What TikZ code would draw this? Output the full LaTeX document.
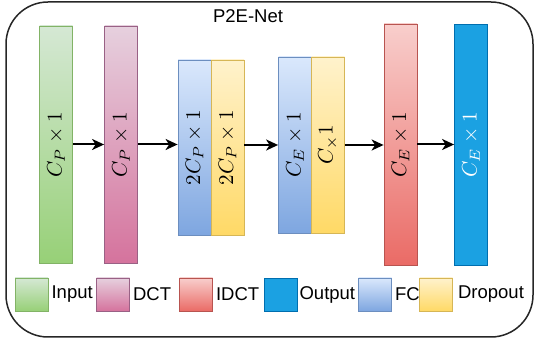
\documentclass[tikz,border=0pt]{standalone}
\usepackage{graphicx}
\usepackage[no-math]{fontspec}
\setmainfont{Liberation Sans}
\usetikzlibrary{arrows.meta}
\definecolor{gTop}{HTML}{D5E8D4}\definecolor{gBot}{HTML}{97D077}\definecolor{gLine}{HTML}{82B366}
\definecolor{pTop}{HTML}{E6D0DE}\definecolor{pBot}{HTML}{D5739D}\definecolor{pLine}{HTML}{996185}
\definecolor{bTop}{HTML}{DAE8FC}\definecolor{bBot}{HTML}{7EA6E0}\definecolor{bLine}{HTML}{6C8EBF}
\definecolor{yTop}{HTML}{FFF2CC}\definecolor{yBot}{HTML}{FFD966}\definecolor{yLine}{HTML}{D6B656}
\definecolor{rTop}{HTML}{F8CECC}\definecolor{rBot}{HTML}{EA6B66}\definecolor{rLine}{HTML}{B85450}
\definecolor{oFill}{HTML}{1BA1E2}\definecolor{oLine}{HTML}{006EAF}
\newcommand{\bigmath}[1]{\scalebox{2.1}{$#1$}}
\begin{document}
\begin{tikzpicture}[x=1pt,y=-1pt,
  bar/.style={draw, line width=0.8pt, inner sep=0pt, minimum width=33pt},
  greenc/.style={draw=gLine, top color=gTop, bottom color=gBot},
  pinkc/.style={draw=pLine, top color=pTop, bottom color=pBot},
  bluec/.style={draw=bLine, top color=bTop, bottom color=bBot},
  yellowc/.style={draw=yLine, top color=yTop, bottom color=yBot},
  redc/.style={draw=rLine, top color=rTop, bottom color=rBot},
  outc/.style={draw=oLine, fill=oFill},
  lbl/.style={rotate=90, inner sep=0pt},
  legsq/.style={draw, line width=0.8pt, minimum size=33pt, inner sep=0pt},
  legtxt/.style={anchor=west, inner sep=0pt, xshift=3pt, font=\fontsize{18.5}{22}\selectfont},
  arr/.style={line width=2pt, -{Stealth[length=12pt,width=11pt,inset=3.5pt]}}]
\useasboundingbox (0,0) rectangle (538,344);
\draw[line width=1.5pt, draw=black!85, rounded corners=42pt] (6,2) rectangle (533,337);
\node[inner sep=0pt, font=\fontsize{18.5}{22}\selectfont] (title) at (248,16) {P2E-Net};
% bars
\node[bar, greenc, minimum height=237pt] (inp) at (56,144.5) {};
\node[bar, pinkc, minimum height=237pt] (dct) at (121,144.5) {};
\node[bar, bluec, minimum height=175pt] (fc1) at (194.5,147.5) {};
\node[bar, yellowc, minimum height=175pt] (dr1) at (227.5,147.5) {};
\node[bar, bluec, minimum height=176pt] (fc2) at (295,145) {};
\node[bar, yellowc, minimum height=176pt] (dr2) at (328,145) {};
\node[bar, redc, minimum height=241pt] (idct) at (400.5,144.5) {};
\node[bar, outc, minimum height=241pt] (out) at (471,144.5) {};
% labels
\node[lbl] (linp) at (inp) {\bigmath{C_P\times 1}};
\node[lbl] (ldct) at (dct) {\bigmath{C_P\times 1}};
\node[lbl] (lfc1) at (fc1) {\bigmath{2C_P\times 1}};
\node[lbl] (ldr1) at (dr1) {\bigmath{2C_P\times 1}};
\node[lbl] (lfc2) at (fc2) {\bigmath{C_E\times 1}};
\node[lbl] (ldr2) at (dr2) {\bigmath{C_\times 1}};
\node[lbl] (lidct) at (idct) {\bigmath{C_E\times 1}};
\node[lbl, text=white] (lout) at (out) {\bigmath{C_E\times 1}};
% arrows
\draw[arr] (inp.east) -- (dct.west);
\draw[arr] (dct.east) -- (dct.east -| fc1.west);
\draw[arr] (dr1.east |- fc2.west) -- (fc2.west);
\draw[arr] (dr2.east) -- (dr2.east -| idct.west);
\draw[arr] (idct.east) -- (out.west);
% legend
\node[legsq, greenc] (sqin) at (31.5,294.5) {};
\node[legtxt] (tin) at (sqin.east) {Input};
\node[legsq, pinkc] (sqdct) at (113,294.5) {};
\node[legtxt] (tdct) at (sqdct.east) {DCT};
\node[legsq, redc] (sqidct) at (196,294.5) {};
\node[legtxt] (tidct) at (sqidct.east) {IDCT};
\node[legsq, outc] (sqout) at (280.5,294.5) {};
\node[legtxt, xshift=-1pt] (tout) at (sqout.east) {Output};
\node[legsq, bluec] (sqfc) at (375,294.5) {};
\node[legtxt] (tfc) at (sqfc.east) {FC};
\node[legsq, yellowc] (sqdr) at (436,294.5) {};
\node[legtxt, xshift=2pt] (tdr) at (sqdr.east) {Dropout};
\end{tikzpicture}
\end{document}
